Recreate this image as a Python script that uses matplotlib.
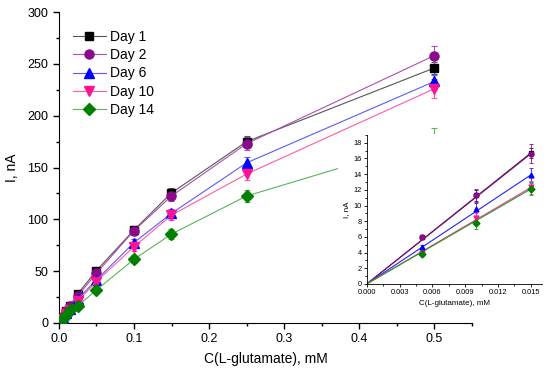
import matplotlib
matplotlib.use("Agg")
import matplotlib.pyplot as plt
from matplotlib.patches import Rectangle
from matplotlib.ticker import MultipleLocator
import numpy as np

plt.rcParams['font.family'] = ['Liberation Sans', 'DejaVu Sans']

# concentrations, mM
conc = [0.005, 0.01, 0.015, 0.025, 0.05, 0.1, 0.15, 0.25, 0.5]
labels = ["Day 1", "Day 2", "Day 6", "Day 10", "Day 14"]

# current, nA
day1 = [6.0, 11.3, 16.7, 28.0, 50.5, 89.7, 125.5, 175.0, 246.0]
day2 = [6.0, 11.3, 16.6, 26.0, 48.0, 89.0, 122.5, 173.0, 258.0]
day6 = [4.7, 9.5, 13.9, 23.0, 41.5, 77.5, 105.8, 154.5, 233.0]
day10 = [4.0, 8.4, 12.3, 21.0, 40.0, 73.6, 104.0, 143.7, 226.0]
day14 = [3.8, 7.8, 12.1, 16.4, 31.8, 61.4, 85.8, 122.5, 177.0]

err1 = [0.3, 0.7, 0.7, 2.0, 3.0, 4.0, 4.5, 5.5, 6.0]
err2 = [0.3, 0.8, 1.2, 2.0, 3.0, 4.5, 5.0, 6.0, 9.0]
err6 = [0.3, 0.8, 0.9, 2.0, 3.0, 4.0, 4.5, 5.5, 6.0]
err10 = [0.3, 0.7, 0.8, 2.0, 3.0, 4.0, 5.0, 6.0, 9.0]
err14 = [0.3, 0.8, 0.8, 2.0, 3.0, 4.0, 4.5, 6.0, 11.0]

series = [day1, day2, day6, day10, day14]
errs = [err1, err2, err6, err10, err14]
markers = ['s', 'o', '^', 'v', 'D']
mcolors = ['#000000', '#8B0A8B', '#0000FF', '#FF1493', '#007F00']
lcolors = ['#555555', '#B04DB0', '#5A5AFF', '#FF5AA8', '#5AB45A']
icolors = ['#222222', '#8B0A8B', '#2020FF', '#FF3399', '#20A020']
msizes = [6.0, 6.5, 6.5, 6.5, 6.0]

fig = plt.figure(figsize=(5.5, 3.76), dpi=100)
ax = fig.add_axes([0.107, 0.141, 0.751, 0.827])

for y, e, m, mc, lc, ms, lab in zip(series, errs, markers, mcolors, lcolors, msizes, labels):
    ax.errorbar(conc, y, yerr=e, fmt='none', ecolor=lc, elinewidth=0.8,
                capsize=2.5, capthick=0.8, zorder=2)
    ax.plot(conc, y, color=lc, lw=0.8, marker=m, markersize=ms,
            markerfacecolor=mc, markeredgecolor=mc, label=lab, zorder=3)

ax.set_xlim(0, 0.55)
ax.set_ylim(0, 300)
ax.xaxis.set_major_locator(MultipleLocator(0.1))
ax.xaxis.set_minor_locator(MultipleLocator(0.05))
ax.yaxis.set_major_locator(MultipleLocator(50))
ax.yaxis.set_minor_locator(MultipleLocator(25))
ax.xaxis.set_major_formatter(matplotlib.ticker.FormatStrFormatter('%.1f'))
ax.spines['top'].set_visible(False)
ax.spines['right'].set_visible(False)
ax.tick_params(which='major', direction='out', length=4, width=1, labelsize=9)
ax.tick_params(which='minor', direction='out', length=2.5, width=1)
ax.set_xlabel("C(L-glutamate), mM", fontsize=10, labelpad=5)
ax.set_ylabel("I, nA", fontsize=10, labelpad=6)
ax.legend(loc='upper left', bbox_to_anchor=(0.01, 0.975), frameon=False,
          fontsize=10, handlelength=2.4, handletextpad=0.3, labelspacing=0.32,
          borderaxespad=0.3)

# white box behind the inset
fig.patches.append(Rectangle((338 / 550, (376 - 322) / 376), 212 / 550, 188 / 376,
                             transform=fig.transFigure, facecolor='white',
                             edgecolor='none', zorder=1))

# inset: low concentrations
ins = fig.add_axes([0.667, 0.245, 0.318, 0.396], zorder=2)
ins.patch.set_facecolor('white')
for y, e, m, mc, ic, lab in zip(series, errs, markers, mcolors, icolors, labels):
    ins.plot([0, conc[2]], [0, y[2]], color=ic, lw=0.8, zorder=2)
    ins.errorbar(conc[:3], y[:3], yerr=e[:3], fmt='none', ecolor=ic, elinewidth=0.6,
                 capsize=1.5, capthick=0.6, zorder=2)
    ins.plot(conc[:3], y[:3], ls='none', marker=m, markersize=3.5,
             markerfacecolor=mc, markeredgecolor=mc, zorder=3)

ins.set_xlim(0, 0.016)
ins.set_ylim(0, 19)
ins.xaxis.set_major_locator(MultipleLocator(0.003))
ins.xaxis.set_minor_locator(MultipleLocator(0.0015))
ins.yaxis.set_major_locator(MultipleLocator(2))
ins.yaxis.set_minor_locator(MultipleLocator(1))
ins.xaxis.set_major_formatter(matplotlib.ticker.FormatStrFormatter('%.3f'))
ins.spines['top'].set_visible(False)
ins.spines['right'].set_visible(False)
for s in ['left', 'bottom']:
    ins.spines[s].set_linewidth(0.6)
ins.tick_params(which='major', direction='out', length=2, width=0.6, labelsize=5.3, pad=1.5)
ins.tick_params(which='minor', direction='out', length=1.2, width=0.6)
ins.set_xlabel("C(L-glutamate), mM", fontsize=5.8, labelpad=3)
ins.set_ylabel("I, nA", fontsize=5.8, labelpad=3)

fig.savefig("out.png", dpi=100)
